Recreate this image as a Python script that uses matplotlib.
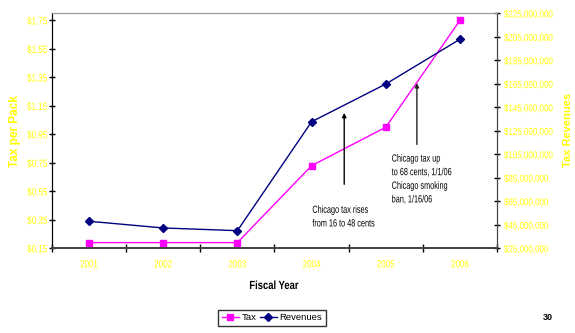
import matplotlib
matplotlib.use("Agg")
import matplotlib.pyplot as plt
import matplotlib.patheffects as pe
from matplotlib.transforms import Affine2D
import numpy as np

plt.rcParams['font.family'] = ['Liberation Sans', 'DejaVu Sans']

years = ['2001', '2002', '2003', '2004', '2005', '2006']
tax_per_pack = [0.19, 0.19, 0.19, 0.73, 1.00, 1.75]
revenues = [48.0e6, 42.3e6, 40.0e6, 132.7e6, 164.8e6, 202.9e6]

left_ticks = np.arange(0.15, 1.76, 0.2)
right_ticks = np.arange(25e6, 225e6 + 1, 20e6)

yellow = '#FFFF00'
x = np.arange(len(years))


class Narrow(pe.AbstractPathEffect):
    """Squeeze glyphs horizontally, keeping the given alignment point fixed."""

    def __init__(self, sx=0.72, align=0.0):
        super().__init__()
        self.sx = sx
        self.align = align

    def draw_path(self, renderer, gc, tpath, affine, rgbFace=None):
        w = tpath.get_extents().x1 if len(tpath.vertices) else 0
        shift = (1 - self.sx) * w * self.align
        t = Affine2D().scale(self.sx, 1).translate(shift, 0) + affine
        renderer.draw_path(gc, tpath, t, rgbFace)


def narrow(texts, sx, align):
    for t in texts:
        t.set_path_effects([Narrow(sx, align)])


fig = plt.figure(figsize=(5.75, 3.33), dpi=100)
ax = fig.add_axes([52 / 575, 1 - 248.3 / 333, 445 / 575, 235 / 333])
ax2 = ax.twinx()

# tax on the left axis, revenues on the right
l1, = ax.plot(x, tax_per_pack, color='#FF00FF', marker='s', markersize=4.5,
              linewidth=1.0, label='Tax')
l2, = ax2.plot(x, revenues, color='#000080', marker='D', markersize=4,
               linewidth=1.0, label='Revenues')

ax.set_xlim(-0.5, 5.5)
ax.set_ylim(0.15, 1.80)
ax2.set_ylim(25e6, 225e6)

ax.set_yticks(left_ticks)
ax.set_yticklabels(['${:.2f}'.format(v) for v in left_ticks])
ax2.set_yticks(right_ticks)
ax2.set_yticklabels(['${:,.0f}'.format(v) for v in right_ticks])

ax.set_xticks(x)
ax.set_xticklabels(years)
ax.set_xticks(np.arange(-0.5, 5.6, 1), minor=True)
ax.tick_params(axis='x', which='major', length=0, pad=8, labelsize=7.5, labelcolor=yellow)
ax.tick_params(axis='x', which='minor', direction='inout', length=6, width=1, color='black')
ax.tick_params(axis='y', direction='inout', length=4, width=1, labelsize=7.5,
               labelcolor=yellow, pad=1.5)
ax2.tick_params(axis='y', direction='inout', length=4, width=1, labelsize=7.2,
                labelcolor=yellow, pad=3)

narrow(ax.get_yticklabels(), 0.77, 1.0)
narrow(ax2.get_yticklabels(), 0.8, 0.0)
narrow(ax.get_xticklabels(), 0.77, 0.5)

for a in (ax, ax2):
    a.spines['top'].set_color('#999999')
    a.spines['left'].set_color('black')
    a.spines['right'].set_color('#444444')
    a.spines['bottom'].set_color('#444444')
    a.spines['bottom'].set_linewidth(1.4)

fig.text(15 / 575, 1 - 131 / 333, 'Tax per Pack', color=yellow, fontsize=8.5,
         fontweight='bold', rotation=90, ha='center', va='center')
fig.text(568 / 575, 1 - 130 / 333, 'Tax Revenues', color=yellow, fontsize=8,
         fontweight='bold', rotation=90, ha='center', va='center')
fx = fig.text(274 / 575, 1 - 286 / 333, 'Fiscal Year', fontsize=8.5, fontweight='bold',
              ha='center', va='center')
narrow([fx], 0.8, 0.5)

# annotations with plain vertical arrows
ax.annotate('', xy=(3.44, 1.12), xytext=(3.44, 0.58),
            arrowprops=dict(arrowstyle='-|>', color='black', lw=1, mutation_scale=6))
ax.annotate('', xy=(4.42, 1.33), xytext=(4.42, 0.86),
            arrowprops=dict(arrowstyle='-|>', color='#222222', lw=1, mutation_scale=6))
t1 = ax.text(3.01, 0.455, 'Chicago tax rises\nfrom 16 to 48 cents', fontsize=7.5,
             va='top', ha='left', linespacing=1.45)
t2 = ax.text(4.08, 0.815, 'Chicago tax up\nto 68 cents, 1/1/06\nChicago smoking\nban, 1/16/06',
             fontsize=7.5, va='top', ha='left', linespacing=1.45)
narrow([t1, t2], 0.7, 0.0)

leg = fig.legend(handles=[l1, l2], loc='center', bbox_to_anchor=(272 / 575, 1 - 318 / 333),
                 ncol=2, fontsize=6.8, frameon=True, fancybox=False, edgecolor='black',
                 handlelength=1.8, handletextpad=0.25, columnspacing=0.4,
                 borderpad=0.4, borderaxespad=0)
leg.get_frame().set_linewidth(1)

fig.text(548 / 575, 1 - 317 / 333, '30', fontsize=6.5, fontweight='bold',
         ha='center', va='center')

fig.savefig('out.png', dpi=100)
